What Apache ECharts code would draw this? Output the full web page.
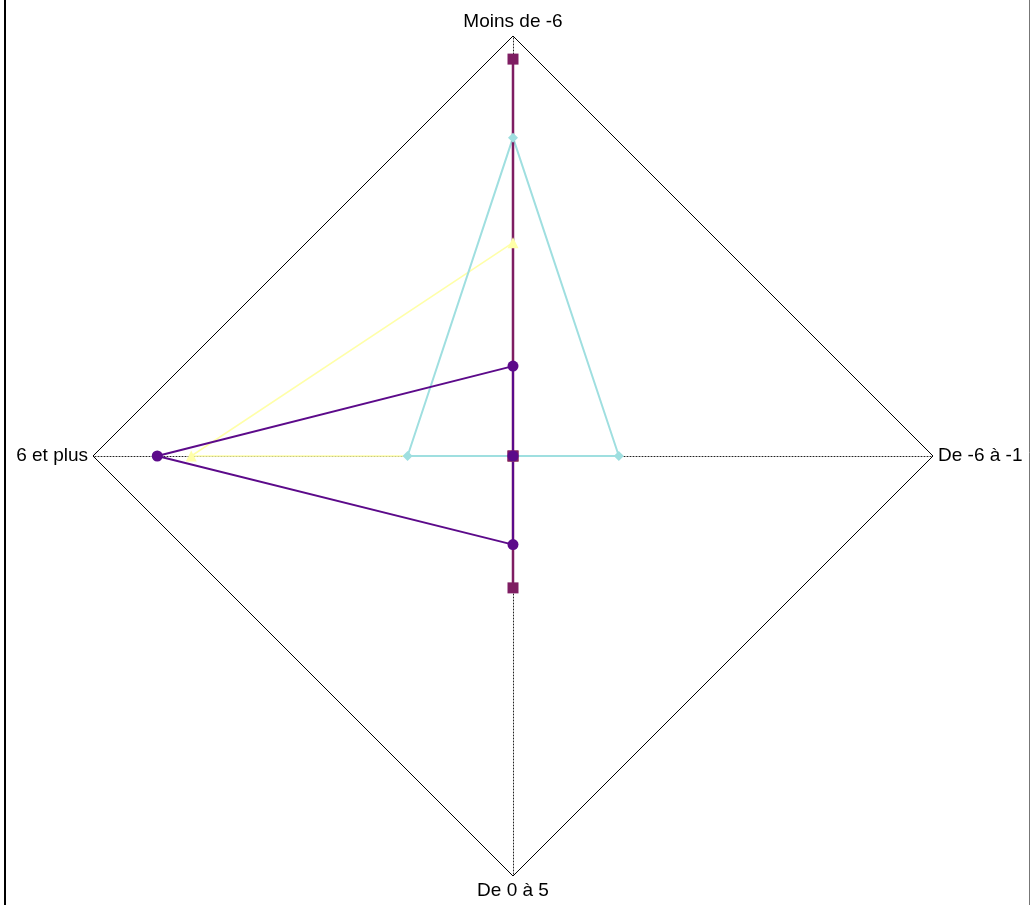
<!DOCTYPE html>
<html><head><meta charset="utf-8">
<script src="https://cdn.jsdelivr.net/npm/echarts@6/dist/echarts.min.js"></script>
<style>html,body{margin:0;padding:0;background:#fff}#c{width:1031px;height:905px}</style>
</head><body><div id="c"></div>
<script>
// indicator order as placed by the radar (top, then counter-clockwise)
const categories = ["Moins de -6", "6 et plus", "De 0 à 5", "De -6 à -1"];
const seriesYellow = [0.508, 0.766, 0, 0];
const seriesCyan = [0.758, 0.251, 0, 0.252];
const seriesMagenta = [0.945, 0, 0.314, 0];
const seriesPurple = [0.214, 0.847, 0.211, 0];

const chart = echarts.init(document.getElementById('c'), null, {renderer: 'canvas'});
function s(name, data, color, symbol, size, width) {
  return {
    type: 'radar', name: name, symbol: symbol, symbolSize: size,
    lineStyle: {color: color, width: width},
    itemStyle: {color: color},
    areaStyle: null,
    data: [{value: data}]
  };
}
chart.setOption({
  animation: false,
  radar: {
    center: [513, 456], radius: 420, startAngle: 90, shape: 'polygon', splitNumber: 1,
    indicator: categories.map(n => ({name: n, max: 1, min: 0})),
    axisName: {color: '#000', fontSize: 19, fontFamily: 'Liberation Sans, Arial, sans-serif'},
    nameGap: 5,
    splitLine: {lineStyle: {color: '#000', width: 1}},
    splitArea: {show: false},
    axisLine: {lineStyle: {color: '#222', width: 1, type: [1, 2]}},
    axisTick: {show: false}
  },
  graphic: [
    {type: 'line', shape: {x1: 5, y1: 0, x2: 5, y2: 905}, style: {stroke: '#000', lineWidth: 2}},
    {type: 'line', shape: {x1: 1029.5, y1: 0, x2: 1029.5, y2: 905}, style: {stroke: '#777', lineWidth: 1}}
  ],
  series: [
    s('Yellow', seriesYellow, '#ffffa8', 'triangle', 11, 1.5),
    s('Cyan', seriesCyan, '#9fdfe0', 'diamond', 10, 2),
    s('Magenta', seriesMagenta, '#7e1d62', 'rect', 11, 2.5),
    s('Purple', seriesPurple, '#5c0a8a', 'circle', 11, 2)
  ]
});
</script></body></html>
